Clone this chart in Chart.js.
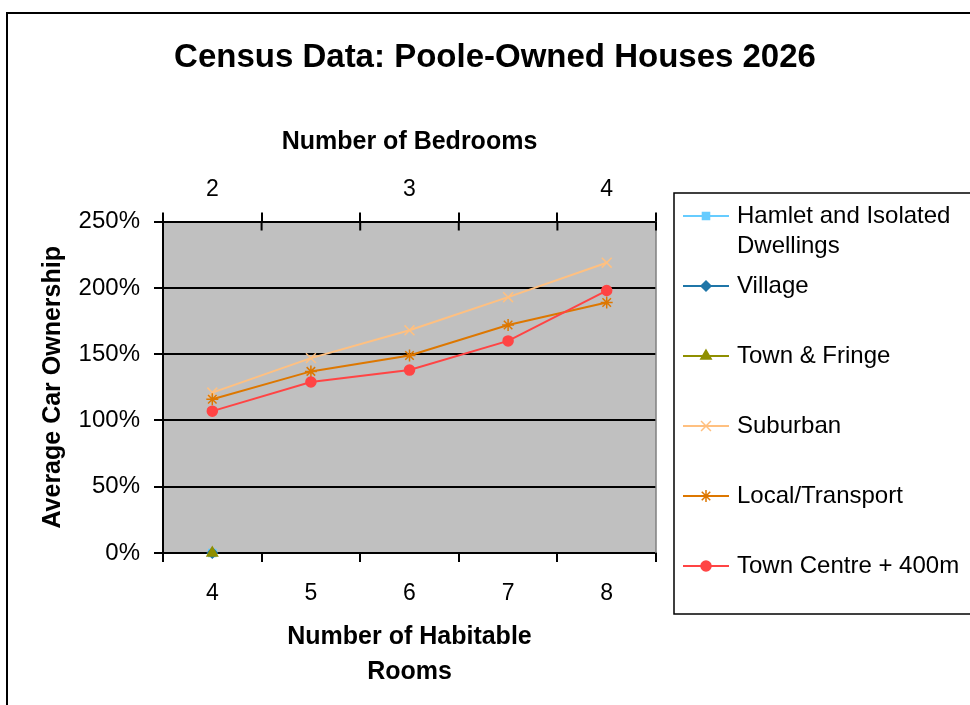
<!DOCTYPE html>
<html>
<head>
<meta charset="utf-8">
<title>Census Data: Poole-Owned Houses 2026</title>
<script src="https://cdn.jsdelivr.net/npm/chart.js@4.4.1/dist/chart.umd.min.js"></script>
<style>
  body { margin: 0; background: #fff; }
  #wrap { width: 970px; height: 705px; position: relative; }
</style>
</head>
<body>
<div id="wrap"><canvas id="censusChart"></canvas></div>
<script>
// categories (bottom axis) and secondary labels (top axis)
const roomLabels = ['4', '5', '6', '7', '8'];
const bedroomLabels = ['2', '', '3', '', '4'];

// y axis range, in percent
const yMin = 0;
const yMax = 250;
const yStep = 50;

// series names ("\n" = where the legend wraps)
const seriesNames = [
    'Hamlet and Isolated\nDwellings',
    'Village',
    'Town & Fringe',
    'Suburban',
    'Local/Transport',
    'Town Centre + 400m'
];

// series values, average car ownership in %
const hamlet = [0, null, null, null, null];
const village = [0, null, null, null, null];
const townFringe = [0, null, null, null, null];
const suburban = [121, 147, 168, 193, 219];
const localTransport = [116, 137, 149, 172, 189];
const townCentre = [107, 129, 138, 160, 198];

const seriesValues = [hamlet, village, townFringe, suburban, localTransport, townCentre];
const seriesColors = ['#66CCFF', '#1F76A8', '#8F8F00', '#FFC080', '#DD7700', '#FF4444'];
const seriesPoints = ['rect', 'rectRot', 'triangle', 'crossRot', 'star', 'circle'];
const seriesRadius = [5, 5, 6, 7, 6, 5];

const FONT = "'Liberation Sans', Arial, sans-serif";
Chart.defaults.font.family = FONT;
Chart.defaults.color = '#000';

const datasets = seriesNames.map((name, i) => ({
    label: name.replace('\n', ' '),
    data: seriesValues[i],
    borderColor: seriesColors[i],
    backgroundColor: seriesColors[i],
    pointBackgroundColor: seriesColors[i],
    pointBorderColor: seriesColors[i],
    pointStyle: seriesPoints[i],
    pointRadius: seriesRadius[i],
    pointBorderWidth: 1.5,
    borderWidth: 2,
    tension: 0,
    clip: false,
    order: seriesNames.length - i,
    xAxisID: 'x',
    yAxisID: 'y'
}));

// grey plot area, right edge, inner half of the top tick marks
const plotArea = {
    id: 'plotArea',
    beforeDraw(chart) {
        const { ctx, chartArea: a } = chart;
        ctx.save();
        ctx.fillStyle = '#C0C0C0';
        ctx.fillRect(a.left, a.top, a.right - a.left, a.bottom - a.top);
        ctx.restore();
    },
    afterDraw(chart) {
        const { ctx, chartArea: a } = chart;
        ctx.save();
        ctx.strokeStyle = '#808080';
        ctx.lineWidth = 1.5;
        ctx.beginPath();
        ctx.moveTo(a.right, a.top);
        ctx.lineTo(a.right, a.bottom);
        ctx.stroke();

        ctx.strokeStyle = '#000';
        ctx.lineWidth = 2;
        const step = (a.right - a.left) / bedroomLabels.length;
        ctx.beginPath();
        for (let i = 0; i <= bedroomLabels.length; i++) {
            const x = a.left + i * step;
            ctx.moveTo(x, a.top);
            ctx.lineTo(x, a.top + 9);
        }
        ctx.stroke();

        // outer chart frame
        ctx.lineWidth = 2;
        ctx.strokeRect(7, 13, 1000, 1000);
        ctx.restore();
    }
};

// legend box on the right, like the spreadsheet one
const sideLegend = {
    id: 'sideLegend',
    afterDraw(chart) {
        const ctx = chart.ctx;
        const left = 674, top = 193, bottom = 614;
        const firstY = 216, gap = 70;
        ctx.save();
        ctx.strokeStyle = '#000';
        ctx.lineWidth = 1.5;
        ctx.strokeRect(left, top, 400, bottom - top);

        ctx.font = '24px ' + FONT;
        ctx.textBaseline = 'middle';
        ctx.textAlign = 'left';
        chart.data.datasets.forEach((ds, i) => {
            const y = firstY + i * gap;
            ctx.strokeStyle = ds.borderColor;
            ctx.fillStyle = ds.borderColor;
            ctx.lineWidth = 2;
            ctx.beginPath();
            ctx.moveTo(left + 9, y);
            ctx.lineTo(left + 55, y);
            ctx.stroke();
            ctx.lineWidth = 1.5;
            Chart.helpers.drawPoint(ctx, {
                pointStyle: ds.pointStyle,
                radius: ds.pointRadius,
                borderWidth: 1.5,
                rotation: 0
            }, left + 32, y);
            ctx.fillStyle = '#000';
            seriesNames[i].split('\n').forEach((line, k) => {
                ctx.fillText(line, left + 63, y + k * 30);
            });
        });
        ctx.restore();
    }
};

new Chart(document.getElementById('censusChart'), {
    type: 'line',
    data: { labels: roomLabels, datasets: datasets },
    options: {
        responsive: true,
        maintainAspectRatio: false,
        animation: false,
        layout: { padding: { left: 20, right: 0, top: 0, bottom: 0 } },
        plugins: {
            legend: { display: false },
            tooltip: { enabled: false },
            title: {
                display: true,
                text: 'Census Data: Poole-Owned Houses 2026',
                font: { size: 33, weight: 'bold' },
                color: '#000',
                padding: { top: 38, bottom: 0 }
            }
        },
        scales: {
            x: {
                type: 'category',
                position: 'bottom',
                offset: true,
                afterFit: (s) => { s.height = 152; },
                grid: { drawOnChartArea: false, offset: true, color: '#000', lineWidth: 2, tickLength: 9 },
                border: { display: true, color: '#000', width: 2 },
                ticks: { font: { size: 23 }, padding: 18, color: '#000', maxRotation: 0, autoSkip: false },
                title: {
                    display: true,
                    text: ['Number of Habitable', 'Rooms'],
                    font: { size: 25, weight: 'bold', lineHeight: 1.4 },
                    color: '#000',
                    padding: { top: 0, bottom: 15 }
                }
            },
            x2: {
                type: 'category',
                position: 'top',
                labels: bedroomLabels,
                offset: true,
                afterFit: (s) => { s.height = 144; },
                grid: { drawOnChartArea: false, offset: true, color: '#000', lineWidth: 2, tickLength: 9 },
                border: { display: true, color: '#000', width: 2 },
                ticks: { font: { size: 23 }, padding: 9, color: '#000', maxRotation: 0, autoSkip: false },
                title: {
                    display: true,
                    text: 'Number of Bedrooms',
                    font: { size: 25, weight: 'bold' },
                    color: '#000',
                    padding: { top: 50, bottom: 0 }
                }
            },
            y: {
                position: 'left',
                min: yMin,
                max: yMax,
                afterFit: (s) => { s.width = 143; },
                grid: { color: '#000', lineWidth: 2, tickLength: 9, tickColor: '#000' },
                border: { display: true, color: '#000', width: 2 },
                ticks: {
                    stepSize: yStep,
                    font: { size: 24 },
                    padding: 14,
                    color: '#000',
                    callback: (v) => v + '%'
                },
                title: {
                    display: true,
                    text: 'Average Car Ownership',
                    font: { size: 25, weight: 'bold' },
                    color: '#000',
                    padding: { top: 18, bottom: 0 }
                }
            },
            yRight: {
                position: 'right',
                display: true,
                afterFit: (s) => { s.width = 314; },
                grid: { display: false },
                border: { display: false },
                ticks: { display: false }
            }
        }
    },
    plugins: [plotArea, sideLegend]
});
</script>
</body>
</html>
